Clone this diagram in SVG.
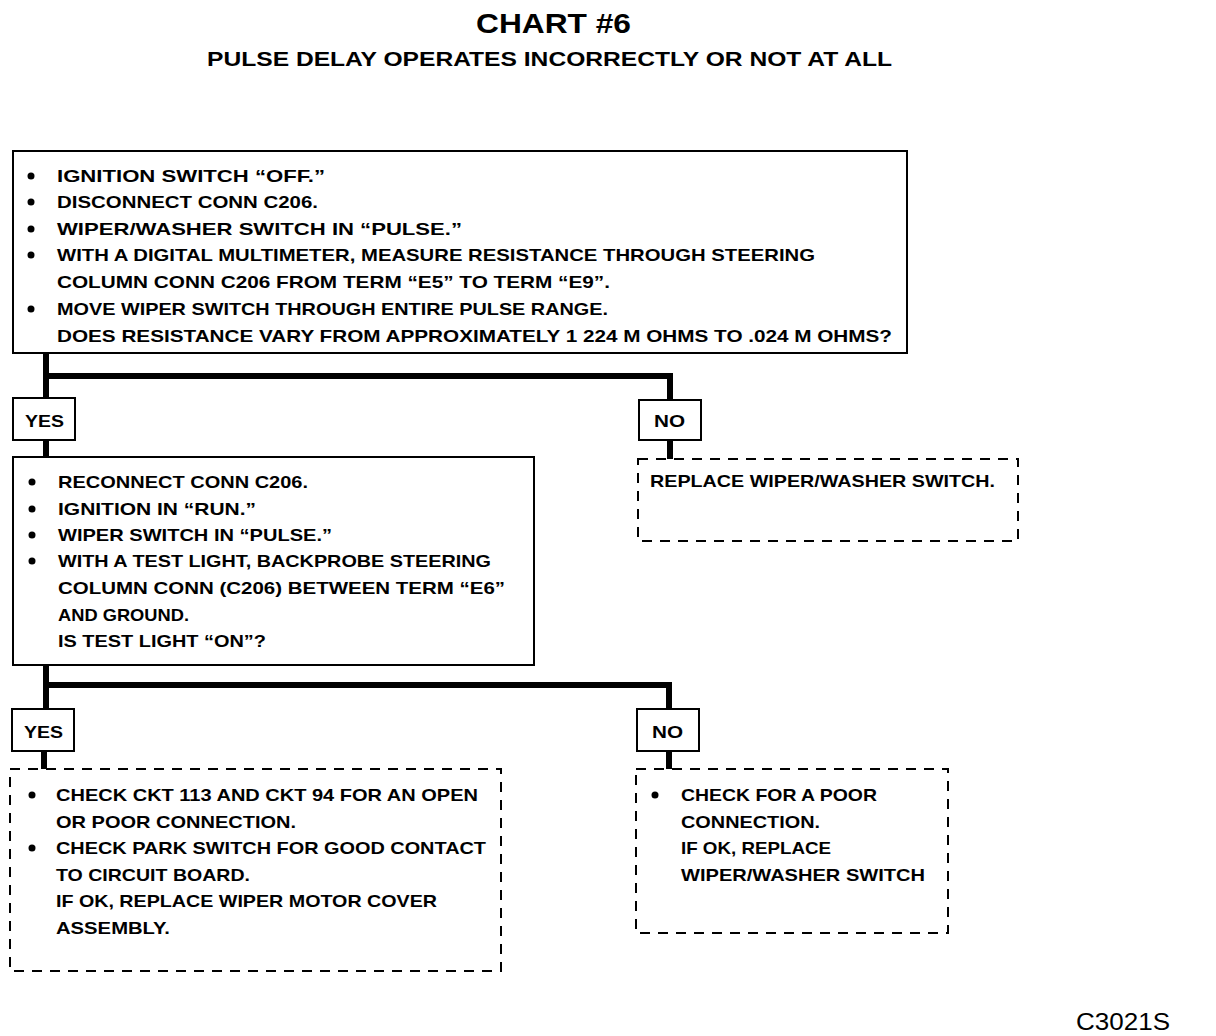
<svg xmlns="http://www.w3.org/2000/svg" width="1216" height="1036" viewBox="0 0 1216 1036">
<style>
text{font-family:"Liberation Sans",Arial,sans-serif;font-weight:bold;fill:#000}
.t{font-size:17px}
.box{fill:#fff;stroke:#000;stroke-width:2}
.dash{fill:#fff;stroke:#000;stroke-width:2;stroke-dasharray:10 8}
.lbl{fill:#fff;stroke:#000;stroke-width:2}
.c{fill:none;stroke:#000;stroke-width:6}
.b{fill:#000}
</style>
<rect width="1216" height="1036" fill="#fff"/>
<g id="title">
<text x="476" y="33" font-size="28" textLength="155" lengthAdjust="spacingAndGlyphs">CHART #6</text>
<text x="207" y="66" font-size="21" textLength="685" lengthAdjust="spacingAndGlyphs">PULSE DELAY OPERATES INCORRECTLY OR NOT AT ALL</text>
</g>
<g id="connectors">
<path class="c" d="M46 353V398M46 376H670V400M46 440V457M670 440V459"/>
<path class="c" d="M46 665V709M46 685H669V709M44 751V769M669 751V769"/>
</g>
<g id="box1">
<rect class="box" x="13" y="151" width="894" height="202"/>
<circle class="b" cx="31" cy="176" r="3.5"/>
<circle class="b" cx="31" cy="202" r="3.5"/>
<circle class="b" cx="31" cy="229" r="3.5"/>
<circle class="b" cx="31" cy="255" r="3.5"/>
<circle class="b" cx="31" cy="309" r="3.5"/>
<text class="t" x="57" y="182" textLength="268" lengthAdjust="spacingAndGlyphs">IGNITION SWITCH “OFF.”</text>
<text class="t" x="57" y="208" textLength="261" lengthAdjust="spacingAndGlyphs">DISCONNECT CONN C206.</text>
<text class="t" x="57" y="235" textLength="405" lengthAdjust="spacingAndGlyphs">WIPER/WASHER SWITCH IN “PULSE.”</text>
<text class="t" x="57" y="261" textLength="758" lengthAdjust="spacingAndGlyphs">WITH A DIGITAL MULTIMETER, MEASURE RESISTANCE THROUGH STEERING</text>
<text class="t" x="57" y="288" textLength="553" lengthAdjust="spacingAndGlyphs">COLUMN CONN C206 FROM TERM “E5” TO TERM “E9”.</text>
<text class="t" x="57" y="315" textLength="551" lengthAdjust="spacingAndGlyphs">MOVE WIPER SWITCH THROUGH ENTIRE PULSE RANGE.</text>
<text class="t" x="57" y="342" textLength="835" lengthAdjust="spacingAndGlyphs">DOES RESISTANCE VARY FROM APPROXIMATELY 1 224 M OHMS TO .024 M OHMS?</text>
</g>
<g id="yes1">
<rect class="lbl" x="13" y="398" width="62" height="42"/>
<text class="t" x="25" y="427" textLength="39" lengthAdjust="spacingAndGlyphs">YES</text>
</g>
<g id="no1">
<rect class="lbl" x="639" y="400" width="62" height="40"/>
<text class="t" x="654" y="427" textLength="31" lengthAdjust="spacingAndGlyphs">NO</text>
</g>
<g id="box2">
<rect class="box" x="13" y="457" width="521" height="208"/>
<circle class="b" cx="32" cy="482" r="3.5"/>
<circle class="b" cx="32" cy="509" r="3.5"/>
<circle class="b" cx="32" cy="535" r="3.5"/>
<circle class="b" cx="32" cy="561" r="3.5"/>
<text class="t" x="58" y="488" textLength="250" lengthAdjust="spacingAndGlyphs">RECONNECT CONN C206.</text>
<text class="t" x="58" y="515" textLength="198" lengthAdjust="spacingAndGlyphs">IGNITION IN “RUN.”</text>
<text class="t" x="58" y="541" textLength="274" lengthAdjust="spacingAndGlyphs">WIPER SWITCH IN “PULSE.”</text>
<text class="t" x="58" y="567" textLength="433" lengthAdjust="spacingAndGlyphs">WITH A TEST LIGHT, BACKPROBE STEERING</text>
<text class="t" x="58" y="594" textLength="447" lengthAdjust="spacingAndGlyphs">COLUMN CONN (C206) BETWEEN TERM “E6”</text>
<text class="t" x="58" y="621" textLength="131" lengthAdjust="spacingAndGlyphs">AND GROUND.</text>
<text class="t" x="58" y="647" textLength="208" lengthAdjust="spacingAndGlyphs">IS TEST LIGHT “ON”?</text>
</g>
<g id="replace1">
<rect class="dash" x="638" y="459" width="380" height="82"/>
<text class="t" x="650" y="487" textLength="345" lengthAdjust="spacingAndGlyphs">REPLACE WIPER/WASHER SWITCH.</text>
</g>
<g id="yes2">
<rect class="lbl" x="12" y="709" width="62" height="42"/>
<text class="t" x="24" y="738" textLength="39" lengthAdjust="spacingAndGlyphs">YES</text>
</g>
<g id="no2">
<rect class="lbl" x="637" y="709" width="62" height="42"/>
<text class="t" x="652" y="738" textLength="31" lengthAdjust="spacingAndGlyphs">NO</text>
</g>
<g id="box3">
<rect class="dash" x="10" y="769" width="491" height="202"/>
<circle class="b" cx="32" cy="795" r="3.5"/>
<circle class="b" cx="32" cy="848" r="3.5"/>
<text class="t" x="56" y="801" textLength="422" lengthAdjust="spacingAndGlyphs">CHECK CKT 113 AND CKT 94 FOR AN OPEN</text>
<text class="t" x="56" y="828" textLength="240" lengthAdjust="spacingAndGlyphs">OR POOR CONNECTION.</text>
<text class="t" x="56" y="854" textLength="430" lengthAdjust="spacingAndGlyphs">CHECK PARK SWITCH FOR GOOD CONTACT</text>
<text class="t" x="56" y="881" textLength="194" lengthAdjust="spacingAndGlyphs">TO CIRCUIT BOARD.</text>
<text class="t" x="56" y="907" textLength="381" lengthAdjust="spacingAndGlyphs">IF OK, REPLACE WIPER MOTOR COVER</text>
<text class="t" x="56" y="934" textLength="114" lengthAdjust="spacingAndGlyphs">ASSEMBLY.</text>
</g>
<g id="box4">
<rect class="dash" x="636" y="769" width="312" height="164"/>
<circle class="b" cx="655" cy="795" r="3.5"/>
<text class="t" x="681" y="801" textLength="196" lengthAdjust="spacingAndGlyphs">CHECK FOR A POOR</text>
<text class="t" x="681" y="828" textLength="139" lengthAdjust="spacingAndGlyphs">CONNECTION.</text>
<text class="t" x="681" y="854" textLength="150" lengthAdjust="spacingAndGlyphs">IF OK, REPLACE</text>
<text class="t" x="681" y="881" textLength="244" lengthAdjust="spacingAndGlyphs">WIPER/WASHER SWITCH</text>
</g>
<g id="code">
<text x="1076" y="1030" font-size="24" font-weight="normal" style="font-weight:normal" textLength="94" lengthAdjust="spacingAndGlyphs">C3021S</text>
</g>
</svg>
